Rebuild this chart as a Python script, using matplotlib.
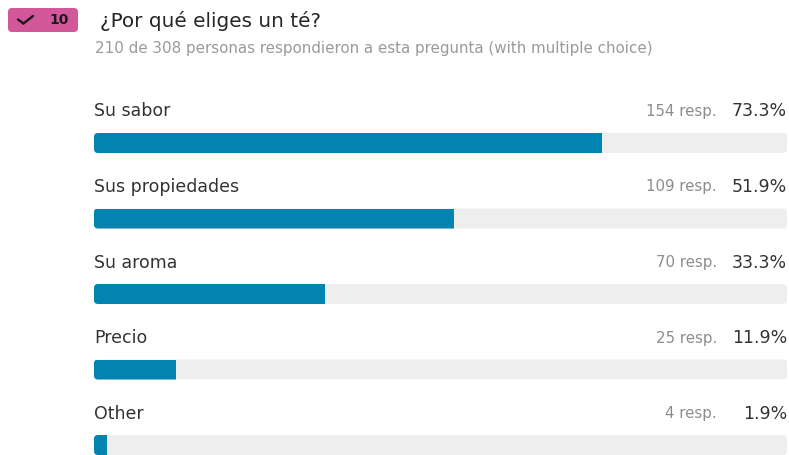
import matplotlib
matplotlib.use("Agg")
import matplotlib.pyplot as plt
from matplotlib.patches import FancyBboxPatch

# Survey results
options = ["Su sabor", "Sus propiedades", "Su aroma", "Precio", "Other"]
responses = [154, 109, 70, 25, 4]
percents = [73.3, 51.9, 33.3, 11.9, 1.9]
question = "¿Por qué eliges un té?"
subtitle = "210 de 308 personas respondieron a esta pregunta (with multiple choice)"
badge_number = "10"

W, H = 789, 455
FONT = "DejaVu Sans"
DARK = "#333333"
GREY = "#8c8c8c"
BLUE = "#0284b0"
TRACK = "#eeeeee"
PINK = "#d2589b"

fig = plt.figure(figsize=(W / 100, H / 100), dpi=100, facecolor="white")

# Page-level layer in pixel units for the header
page = fig.add_axes([0, 0, 1, 1])
page.set_xlim(0, W)
page.set_ylim(H, 0)
page.axis("off")

page.add_patch(FancyBboxPatch((8, 8), 70, 24, boxstyle="round,pad=0,rounding_size=4",
                              fc=PINK, ec="none"))
page.plot([18, 23.5, 33], [19.5, 23.5, 16], color="#1a1a1a", lw=1.7, solid_capstyle="round",
          solid_joinstyle="miter")
page.text(59, 20.5, badge_number, ha="center", va="center", family=FONT, fontsize=10,
          fontweight="bold", color="#1a1a1a")
page.text(100, 21, question, ha="left", va="center", family=FONT, fontsize=14.4,
          color="#262626")
page.text(95, 49, subtitle, ha="left", va="center", family=FONT, fontsize=10.93, color="#9a9a9a")

# Bar layer: x in percent, y in row index
x0, x1 = 94, 787
first_row, row_step = 143, 75.5
ax = fig.add_axes([x0 / W, 0, (x1 - x0) / W, 1])
ax.set_xlim(0, 100)
ax.set_ylim((H - first_row) / row_step, -first_row / row_step)
ax.axis("off")
ax.patch.set_visible(False)

px_per_pct = (x1 - x0) / 100
bar_h = 20 / row_step
aspect = px_per_pct / row_step
label_lift = 31.5

for i, (name, n, pct) in enumerate(zip(options, responses, percents)):
    track = FancyBboxPatch((0, i - bar_h / 2), 100, bar_h,
                           boxstyle=f"round,pad=0,rounding_size={4 / px_per_pct}",
                           mutation_aspect=aspect, fc=TRACK, ec="none")
    ax.add_patch(track)
    bar = ax.barh(i, pct, height=bar_h, color=BLUE, edgecolor="none")[0]
    bar.set_clip_path(track)

    ax.annotate(name, (0, i), xytext=(0, label_lift), textcoords="offset pixels", ha="left",
                va="center", family=FONT, fontsize=12.55, color=DARK, annotation_clip=False)
    ax.annotate(f"{pct}%", (100, i), xytext=(0, label_lift), textcoords="offset pixels", ha="right",
                va="center", family=FONT, fontsize=12.55, color=DARK, annotation_clip=False)
    ax.annotate(f"{n} resp.", (100, i), xytext=(-70, label_lift), textcoords="offset pixels",
                ha="right", va="center", family=FONT, fontsize=10.8, color=GREY,
                annotation_clip=False)

fig.savefig("out.png", dpi=100)
